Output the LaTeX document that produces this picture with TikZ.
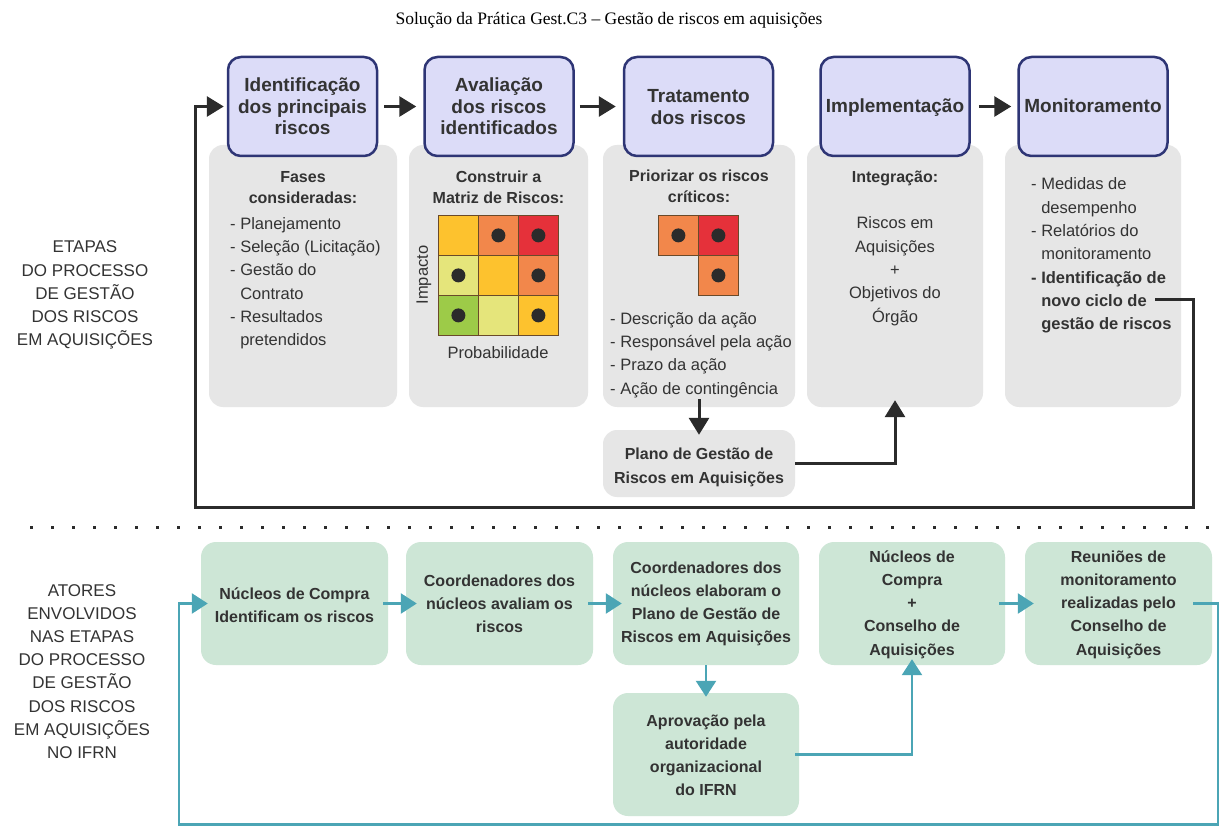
\documentclass[tikz,border=0pt]{standalone}
\usepackage{fontspec}
\setmainfont{Liberation Sans}
\newfontfamily\titlefont{Liberation Serif}
\usetikzlibrary{arrows.meta}
\definecolor{lav}{HTML}{DCDCF8}
\definecolor{navy}{HTML}{2E3575}
\definecolor{grayc}{HTML}{E6E6E6}
\definecolor{greenc}{HTML}{CDE6D6}
\definecolor{tealc}{HTML}{4BA5B5}
\definecolor{blk}{HTML}{2B2B2B}
\definecolor{txtc}{HTML}{333333}
\definecolor{cyo}{HTML}{FDC22E}
\definecolor{cor}{HTML}{F2874B}
\definecolor{cre}{HTML}{E5313A}
\definecolor{cly}{HTML}{E5E57B}
\definecolor{cgr}{HTML}{9DCB48}
\definecolor{cbd}{HTML}{6A4A2A}
\newcommand\mycen[1]{\begin{tabular}[t]{@{}c@{}}#1\end{tabular}}
\newcommand\myleft[1]{\begin{tabular}[t]{@{}l@{}}#1\end{tabular}}
\tikzset{
 hdrbox/.style={draw=navy, line width=2.5pt, fill=lav, rounded corners=13pt, minimum width=149pt, minimum height=99pt, inner sep=0pt},
 graybox/.style={fill=grayc, rounded corners=14pt, inner sep=0pt, minimum height=262pt},
 greenbox/.style={fill=greenc, rounded corners=15pt, inner sep=0pt, minimum width=187pt, minimum height=123pt},
 txt/.style={anchor=base, inner sep=0pt, text=txtc},
 hdrtxt/.style={txt, font=\fontsize{19}{21.5}\selectfont\bfseries},
 bodytxt/.style={txt, font=\fontsize{16.5}{23.3}\selectfont},
 subtxt/.style={txt, font=\fontsize{16}{20.5}\selectfont\bfseries},
 plantxt/.style={txt, font=\fontsize{16}{24}\selectfont\bfseries},
 grntxt/.style={txt, font=\fontsize{16}{23.3}\selectfont\bfseries},
 sidetxt/.style={txt, font=\fontsize{17}{23.2}\selectfont},
 barrow/.style={draw=blk, line width=3pt, -{Triangle[length=17pt,width=20pt]}},
 tarrow/.style={draw=tealc, line width=2.5pt, -{Triangle[length=16pt,width=20pt]}},
 cell/.style={draw=cbd, line width=0.8pt, minimum size=40pt, inner sep=0pt, anchor=north west},
 rdot/.style={circle, fill=blk, minimum size=14pt, inner sep=0pt},
}
\begin{document}
\begin{tikzpicture}[x=1pt,y=-1pt]
\useasboundingbox[fill=white] (0,0) rectangle (1221,826);
% title
\node[txt, font=\titlefont\fontsize{17.5}{20}\selectfont, text=black] (title) at (609,25) {Solução da Prática Gest.C3 – Gestão de riscos em aquisições};
% side labels
\node[sidetxt] (lab1) at (85,253) {\mycen{ETAPAS\\DO PROCESSO\\DE GESTÃO\\DOS RISCOS\\EM AQUISIÇÕES}};
\node[sidetxt] (lab2) at (82,596) {\mycen{ATORES\\ENVOLVIDOS\\NAS ETAPAS\\DO PROCESSO\\DE GESTÃO\\DOS RISCOS\\EM AQUISIÇÕES\\NO IFRN}};
% gray boxes
\node[graybox, minimum width=188pt] (gr1) at (303,276) {};
\node[graybox, minimum width=179pt] (gr2) at (498.5,276) {};
\node[graybox, minimum width=192pt] (gr3) at (699,276) {};
\node[graybox, minimum width=176pt] (gr4) at (895,276) {};
\node[graybox, minimum width=176pt] (gr5) at (1093,276) {};
\node[graybox, minimum width=192pt, minimum height=67pt] (plan) at (699,463.5) {};
% header boxes
\node[hdrbox] (b1) at (302.5,106.5) {};
\node[hdrbox] (b2) at (499,106.5) {};
\node[hdrbox] (b3) at (698.5,106.5) {};
\node[hdrbox] (b4) at (895,106.5) {};
\node[hdrbox] (b5) at (1093,106.5) {};
\node[hdrtxt] (b1t) at (302.5,92) {\mycen{Identificação\\dos principais\\riscos}};
\node[hdrtxt] (b2t) at (499,92) {\mycen{Avaliação\\dos riscos\\identificados}};
\node[hdrtxt] (b3t) at (698.5,103) {\mycen{Tratamento\\dos riscos}};
\node[hdrtxt] (b4t) at (895,113) {Implementação};
\node[hdrtxt] (b5t) at (1093,113) {Monitoramento};
% gray box 1
\node[subtxt] (g1h) at (303,183) {\mycen{Fases\\consideradas:}};
\node[bodytxt, anchor=base west] (g1l) at (230,229.3) {\myleft{- Planejamento\\- Seleção (Licitação)\\- Gestão do\\\phantom{- }Contrato\\- Resultados\\\phantom{- }pretendidos}};
% gray box 2
\node[subtxt] (g2h) at (498.5,183) {\mycen{Construir a\\Matriz de Riscos:}};
\node[cell, fill=cyo] (m11) at (438,215) {};
\node[cell, fill=cor] (m12) at (478,215) {};
\node[cell, fill=cre] (m13) at (518,215) {};
\node[cell, fill=cly] (m21) at (438,255) {};
\node[cell, fill=cyo] (m22) at (478,255) {};
\node[cell, fill=cor] (m23) at (518,255) {};
\node[cell, fill=cgr] (m31) at (438,295) {};
\node[cell, fill=cly] (m32) at (478,295) {};
\node[cell, fill=cyo] (m33) at (518,295) {};
\node[rdot] (d12) at (m12.center) {};
\node[rdot] (d13) at (m13.center) {};
\node[rdot] (d21) at (m21.center) {};
\node[rdot] (d23) at (m23.center) {};
\node[rdot] (d31) at (m31.center) {};
\node[rdot] (d33) at (m33.center) {};
\node[txt, anchor=center, font=\fontsize{16.5}{20}\selectfont, rotate=90] (imp) at (424,275) {Impacto};
\node[bodytxt] (prob) at (498,359) {Probabilidade};
% gray box 3
\node[subtxt] (g3h) at (699,182) {\mycen{Priorizar os riscos\\críticos:}};
\node[cell, fill=cor] (s1) at (658,215) {};
\node[cell, fill=cre] (s2) at (698,215) {};
\node[cell, fill=cor] (s3) at (698,255) {};
\node[rdot] (sd1) at (s1.center) {};
\node[rdot] (sd2) at (s2.center) {};
\node[rdot] (sd3) at (s3.center) {};
\node[bodytxt, anchor=base west] (g3l) at (610,324.3) {\myleft{- Descrição da ação\\- Responsável pela ação\\- Prazo da ação\\- Ação de contingência}};
\node[plantxt] (plant) at (699,459) {\mycen{Plano de Gestão de\\Riscos em Aquisições}};
% gray box 4
\node[subtxt] (g4h) at (895,183) {Integração:};
\node[bodytxt] (g4l) at (895,229) {\mycen{Riscos em\\Aquisições\\+\\Objetivos do\\Órgão}};
% gray box 5
\node[bodytxt, anchor=base west] (g5l) at (1031,190) {\myleft{- Medidas de\\\phantom{- }desempenho\\- Relatórios do\\\phantom{- }monitoramento\\\textbf{- Identificação de}\\\textbf{\phantom{- }novo ciclo de}\\\textbf{\phantom{- }gestão de riscos}}};
% black connectors
\draw[barrow] ([xshift=6pt]b1.east) -- ([xshift=-7pt]b2.west);
\draw[barrow] ([xshift=5pt]b2.east) -- ([xshift=-7pt]b3.west);
\draw[barrow] ([xshift=8pt]b4.east) -- ([xshift=-6pt]b5.west);
\draw[barrow] ([yshift=8pt]gr3.south) -- ([yshift=-5pt]plan.north);
\draw[barrow] (plan.east) -| ([yshift=7pt]gr4.south);
\coordinate (lpS) at (1155,300);
\coordinate (lpR) at (1193,507);
\coordinate (lpL) at (195,106.5);
\draw[barrow] (lpS) -| (lpR) -| (lpL) -- ([xshift=-3pt]b1.west);
% dotted separator
\draw[blk, line width=3pt, dash pattern=on 3pt off 18pt] (30,527) -- (1221,527);
% green boxes
\node[greenbox] (g1) at (294.5,603.5) {};
\node[greenbox] (g2) at (499.5,603.5) {};
\node[greenbox, minimum width=186pt] (g3) at (706,603.5) {};
\node[greenbox, minimum width=186pt] (g4) at (912,603.5) {};
\node[greenbox] (g5) at (1118.5,603.5) {};
\node[greenbox, minimum width=186pt] (g6) at (706,754.5) {};
\node[grntxt] (g1t) at (294.5,599) {\mycen{Núcleos de Compra\\Identificam os riscos}};
\node[grntxt] (g2t) at (499.5,586) {\mycen{Coordenadores dos\\núcleos avaliam os\\riscos}};
\node[grntxt] (g3t) at (706,573) {\mycen{Coordenadores dos\\núcleos elaboram o\\Plano de Gestão de\\Riscos em Aquisições}};
\node[grntxt] (g4t) at (912,562) {\mycen{Núcleos de\\Compra\\+\\Conselho de\\Aquisições}};
\node[grntxt] (g5t) at (1118.5,562) {\mycen{Reuniões de\\monitoramento\\realizadas pelo\\Conselho de\\Aquisições}};
\node[grntxt] (g6t) at (706,726) {\mycen{Aprovação pela\\autoridade\\organizacional\\do IFRN}};
% teal connectors
\draw[tarrow] ([xshift=-5pt]g1.east) -- ([xshift=11pt]g2.west);
\draw[tarrow] ([xshift=-5pt]g2.east) -- ([xshift=9pt]g3.west);
\draw[tarrow] ([xshift=-6pt]g4.east) -- ([xshift=9pt]g5.west);
\draw[tarrow] (g3.south) -- ([yshift=-4pt]g6.north);
\draw[tarrow] ([xshift=-4pt]g6.east) -| ([yshift=6pt]g4.south);
\coordinate (tS) at (1193,603.5);
\coordinate (tR) at (1218,824.5);
\coordinate (tL) at (179,603.5);
\draw[tarrow] (tS) -| (tR) -| (tL) -- ([xshift=7pt]g1.west);
\end{tikzpicture}
\end{document}
